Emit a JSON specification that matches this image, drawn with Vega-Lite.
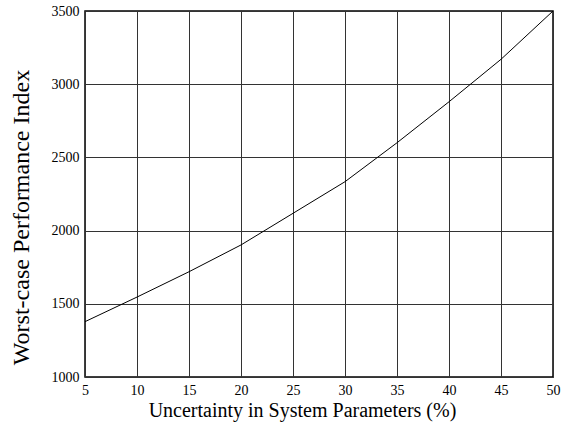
{
  "$schema": "https://vega.github.io/schema/vega-lite/v6.json",
  "autosize": "none",
  "width": 468,
  "height": 366,
  "padding": {"left": 85, "top": 11, "right": 8, "bottom": 48},
  "background": "white",
  "config": {
    "view": {"stroke": "black", "strokeWidth": 1.5},
    "font": "Liberation Serif"
  },
  "data": {
    "values": [
      {"u": 5, "p": 1378},
      {"u": 10, "p": 1546},
      {"u": 15, "p": 1719},
      {"u": 20, "p": 1902},
      {"u": 25, "p": 2118},
      {"u": 30, "p": 2334},
      {"u": 35, "p": 2600},
      {"u": 40, "p": 2880},
      {"u": 45, "p": 3170},
      {"u": 50, "p": 3500}
    ]
  },
  "mark": {"type": "line", "color": "black", "strokeWidth": 1, "clip": true},
  "encoding": {
    "x": {
      "field": "u",
      "type": "quantitative",
      "scale": {"domain": [5, 50], "nice": false, "zero": false},
      "axis": {
        "title": "Uncertainty in System Parameters (%)",
        "values": [5, 10, 15, 20, 25, 30, 35, 40, 45, 50],
        "format": "d",
        "grid": true,
        "gridColor": "#333",
        "gridOpacity": 1,
        "gridWidth": 1,
        "domain": false,
        "ticks": false,
        "labelFont": "Liberation Serif",
        "labelFontSize": 14,
        "labelColor": "black",
        "labelPadding": 6,
        "labelFlush": false,
        "titleFont": "Liberation Serif",
        "titleFontSize": 20,
        "titleFontWeight": "normal",
        "titleColor": "black",
        "titleX": 217,
        "titleY": 39,
        "titleBaseline": "alphabetic"
      }
    },
    "y": {
      "field": "p",
      "type": "quantitative",
      "scale": {"domain": [1000, 3500], "nice": false, "zero": false},
      "axis": {
        "title": "Worst-case Performance Index",
        "values": [1000, 1500, 2000, 2500, 3000, 3500],
        "format": "d",
        "grid": true,
        "gridColor": "#333",
        "gridOpacity": 1,
        "gridWidth": 1,
        "domain": false,
        "ticks": false,
        "labelFont": "Liberation Serif",
        "labelFontSize": 14,
        "labelColor": "black",
        "labelPadding": 6,
        "labelFlush": false,
        "titleFont": "Liberation Serif",
        "titleFontSize": 24,
        "titleFontWeight": "normal",
        "titleColor": "black",
        "titleX": -64,
        "titleY": 206,
        "titleBaseline": "middle",
        "titleAngle": -90
      }
    }
  }
}
